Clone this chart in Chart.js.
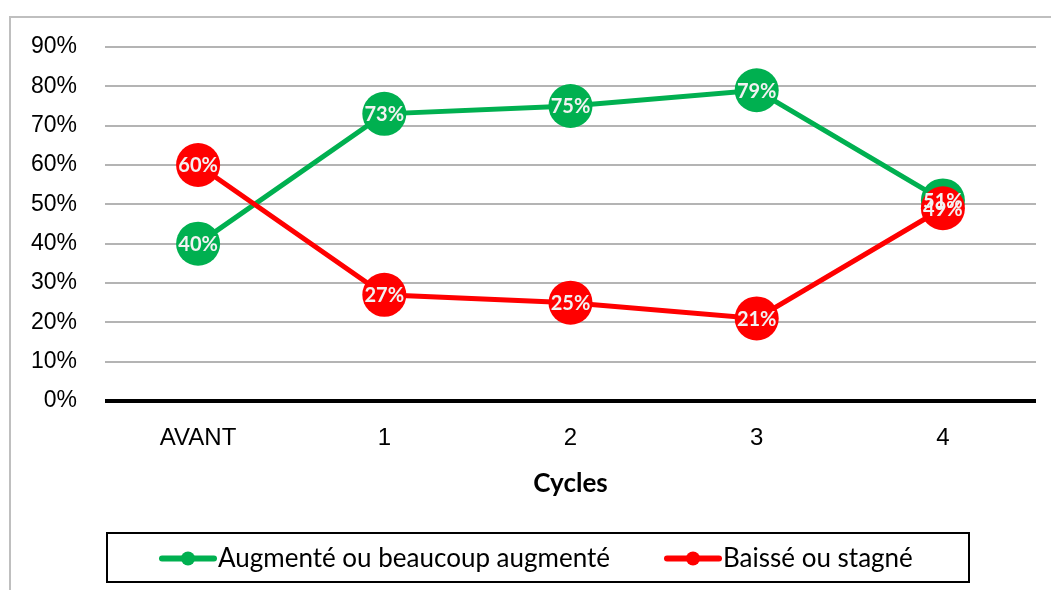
<!DOCTYPE html>
<html>
<head>
<meta charset="utf-8">
<script src="https://cdn.jsdelivr.net/npm/chart.js@4/dist/chart.umd.min.js"></script>
<style>
  html, body { margin: 0; padding: 0; background: #fff; }
  #wrap { width: 1051px; height: 590px; }
</style>
</head>
<body>
<div id="wrap"><canvas id="c" width="1051" height="590"></canvas></div>
<script>
// Cycle labels on the x axis
const categories = ['AVANT', '1', '2', '3', '4'];
// Share of respondents per cycle (%)
const upValues = [40, 73, 75, 79, 51];
const downValues = [60, 27, 25, 21, 49];
const seriesNames = ['Augmenté ou beaucoup augmenté', 'Baissé ou stagné'];
const yTicks = [0, 10, 20, 30, 40, 50, 60, 70, 80, 90];

const GREEN = '#00B050';
const RED = '#FF0000';
const FONT = "'Lato', 'Open Sans', sans-serif";
const AXIS_FONT = "'Liberation Sans', Arial, sans-serif";

// Light grey frame around the whole chart
const framePlugin = {
  id: 'frame',
  beforeDraw(chart) {
    const ctx = chart.ctx;
    ctx.save();
    ctx.fillStyle = '#fff';
    ctx.fillRect(0, 0, chart.width, chart.height);
    ctx.strokeStyle = '#BFBFBF';
    ctx.lineWidth = 2;
    ctx.beginPath();
    ctx.moveTo(10, chart.height);
    ctx.lineTo(10, 17);
    ctx.lineTo(chart.width, 17);
    ctx.stroke();
    ctx.restore();
  }
};

// Percentage written in the middle of each marker
const valueLabels = {
  id: 'valueLabels',
  afterDatasetsDraw(chart) {
    const ctx = chart.ctx;
    ctx.save();
    ctx.font = "bold 20px " + FONT;
    ctx.fillStyle = '#F2F2F2';
    ctx.textAlign = 'center';
    ctx.textBaseline = 'middle';
    chart.data.datasets.forEach((ds, i) => {
      const meta = chart.getDatasetMeta(i);
      meta.data.forEach((pt, j) => {
        ctx.fillText(ds.data[j] + '%', pt.x, pt.y + 1);
      });
    });
    ctx.restore();
  }
};

// Boxed legend under the axis title
const boxLegend = {
  id: 'boxLegend',
  afterDraw(chart) {
    const ctx = chart.ctx;
    const box = { x: 107, y: 533, w: 862, h: 49 };
    ctx.save();
    ctx.strokeStyle = '#000';
    ctx.lineWidth = 2;
    ctx.strokeRect(box.x, box.y, box.w, box.h);
    ctx.font = "26px " + FONT;
    ctx.textBaseline = 'middle';
    const cy = box.y + box.h / 2 + 1;
    const starts = [162, 667];
    chart.data.datasets.forEach((ds, i) => {
      const x0 = starts[i];
      ctx.strokeStyle = ds.borderColor;
      ctx.lineWidth = 6;
      ctx.lineCap = 'round';
      ctx.beginPath();
      ctx.moveTo(x0, cy);
      ctx.lineTo(x0 + 52, cy);
      ctx.stroke();
      ctx.fillStyle = ds.borderColor;
      ctx.beginPath();
      ctx.arc(x0 + 26, cy, 7, 0, Math.PI * 2);
      ctx.fill();
      ctx.fillStyle = '#000';
      ctx.textAlign = 'left';
      ctx.fillText(ds.label, x0 + 56, cy);
    });
    ctx.restore();
  }
};

new Chart(document.getElementById('c'), {
  type: 'line',
  data: {
    labels: categories,
    datasets: [
      {
        label: seriesNames[0],
        data: upValues,
        borderColor: GREEN,
        backgroundColor: GREEN,
        pointBackgroundColor: GREEN,
        borderWidth: 5,
        pointRadius: 22,
        pointHoverRadius: 22,
        pointBorderWidth: 0,
        tension: 0,
        order: 1
      },
      {
        label: seriesNames[1],
        data: downValues,
        borderColor: RED,
        backgroundColor: RED,
        pointBackgroundColor: RED,
        borderWidth: 5,
        pointRadius: 22,
        pointHoverRadius: 22,
        pointBorderWidth: 0,
        tension: 0,
        order: 0
      }
    ]
  },
  options: {
    responsive: false,
    animation: false,
    events: [],
    layout: { autoPadding: false, padding: { top: 47, right: 15, bottom: 89, left: 0 } },
    plugins: {
      legend: { display: false },
      tooltip: { enabled: false }
    },
    scales: {
      x: {
        offset: true,
        grid: { display: false, drawTicks: false },
        border: { display: false },
        ticks: {
          color: '#000',
          font: { family: AXIS_FONT, size: 24 },
          padding: 23,
          maxRotation: 0
        },
        title: {
          display: true,
          text: 'Cycles',
          color: '#000',
          font: { family: FONT, size: 26, weight: 'bold' },
          padding: { top: 10, bottom: 2 }
        },
        afterFit(scale) {
          scale.height = 100;
          scale.paddingLeft = 0;
          scale.paddingRight = 0;
        }
      },
      y: {
        min: 0,
        max: 90,
        afterBuildTicks(scale) { scale.ticks = yTicks.map(v => ({ value: v })); },
        grid: {
          drawTicks: false,
          color: ctx => ctx.tick.value === 0 ? '#000' : '#B4B4B4',
          lineWidth: ctx => ctx.tick.value === 0 ? 4 : 2
        },
        border: { display: false },
        ticks: {
          color: '#000',
          font: { family: AXIS_FONT, size: 23 },
          padding: 28,
          callback: v => v + '%'
        },
        afterFit(scale) {
          scale.width = 105;
          scale.paddingTop = 0;
          scale.paddingBottom = 0;
        }
      }
    }
  },
  plugins: [framePlugin, valueLabels, boxLegend]
});
</script>
</body>
</html>
